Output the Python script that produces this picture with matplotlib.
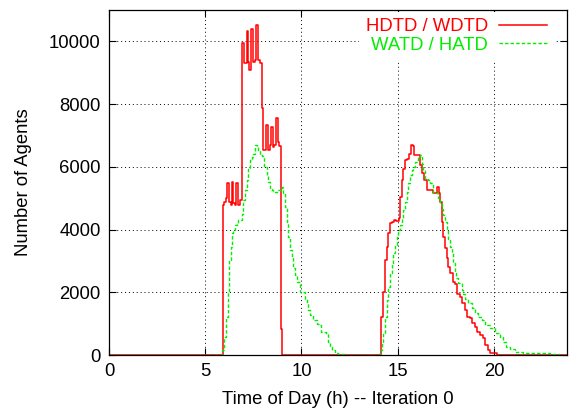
import matplotlib
matplotlib.use("Agg")
import matplotlib.pyplot as plt

plt.rcParams['font.family'] = ['Liberation Sans', 'DejaVu Sans']

# step data: time of day (h) where the count changes, and the new count
red_t = [0, 5.9, 6.0, 6.08, 6.15, 6.25, 6.32, 6.37, 6.46, 6.55, 6.6, 6.72, 6.8,
         6.89, 6.99, 7.15, 7.23, 7.29, 7.38, 7.5, 7.58, 7.64, 7.76, 7.84, 7.93,
         8.02, 8.14, 8.28, 8.36, 8.4, 8.5, 8.57, 8.68, 8.78, 8.85, 8.94, 9.0,
         14.13, 14.22, 14.32, 14.42, 14.51, 14.6, 14.7, 14.8, 14.93, 15.05,
         15.12, 15.2, 15.29, 15.38, 15.5, 15.6, 15.67, 15.77, 15.86, 15.99,
         16.16, 16.28, 16.38, 16.5, 16.64, 16.81, 17.02, 17.13, 17.22, 17.3,
         17.37, 17.45, 17.54, 17.63, 17.71, 17.89, 17.98, 18.06, 18.23, 18.32,
         18.49, 18.58, 18.75, 18.84, 19.0, 19.1, 19.27, 19.44, 19.53, 19.7,
         19.79, 20.14, 21.0, 23.8]
red_n = [0, 4780, 4880, 5000, 5470, 4880, 4780, 5500, 4850, 4780, 5470, 4780, 4940,
         9940, 9300, 10320, 9330, 9100, 10400, 9330, 9400, 10520, 9400, 9300, 7880,
         6530, 7320, 6530, 6690, 7270, 6640, 6690, 7550, 6800, 6650, 830, 0,
         1220, 2020, 3025, 3450, 3875, 4200, 4250, 4320, 4280, 4370,
         5040, 5570, 5940, 6210, 6250, 6420, 6690, 6650, 6370, 6380,
         6050, 5790, 5570, 5270, 5250, 5150, 5360, 5150, 4880, 4250,
         3770, 3400, 3080, 2810, 2600, 2330, 2250, 1960, 1860, 1650,
         1430, 1220, 1180, 1030, 900, 740, 640, 530, 320, 160,
         50, 10, 0, 0]

green_t = [0, 5.85, 5.99, 6.08, 6.16, 6.25, 6.32, 6.37, 6.46, 6.55, 6.63, 6.72, 6.8,
           6.89, 6.98, 7.06, 7.15, 7.24, 7.32, 7.41, 7.5, 7.58, 7.68, 7.76, 7.84,
           7.97, 8.05, 8.19, 8.28, 8.36, 8.45, 8.54, 8.8, 8.97, 9.05, 9.14, 9.23,
           9.31, 9.4, 9.49, 9.57, 9.66, 9.75, 9.92, 10.18, 10.27, 10.35, 10.44,
           10.6, 10.79, 10.95, 11.04, 11.3, 11.39, 11.48, 11.57, 11.74, 11.9,
           12.3, 12.5, 14.08, 14.17, 14.25, 14.34, 14.42, 14.51, 14.6, 14.68,
           14.77, 14.86, 14.94, 15.03, 15.12, 15.2, 15.29, 15.38, 15.46, 15.55,
           15.64, 15.72, 15.81, 15.9, 16.07, 16.16, 16.24, 16.33, 16.42, 16.6,
           16.68, 16.85, 17.1, 17.19, 17.28, 17.36, 17.45, 17.54, 17.62, 17.71,
           17.8, 17.88, 17.97, 18.05, 18.14, 18.32, 18.4, 18.49, 18.67, 18.84,
           19.01, 19.18, 19.36, 19.53, 19.79, 20.05, 20.31, 20.48, 20.65, 20.83,
           21.09, 21.5, 22.2, 22.9, 23.4, 23.8]
green_n = [0, 160, 580, 1220, 2020, 3025, 3450, 3880, 3980, 4140, 4180, 4300, 4320,
           4510, 4940, 5250, 5570, 5940, 6210, 6300, 6420, 6690, 6650, 6530, 6370,
           6360, 6000, 5730, 5520, 5300, 5250, 5200, 5250, 5360, 5150, 4720, 4250,
           3770, 3340, 3080, 2760, 2550, 2330, 2020, 1780, 1650, 1430, 1270,
           1110, 1000, 950, 740, 690, 420, 260, 160, 50, 30,
           10, 0, 160, 370, 690, 1220, 1750, 2180, 2600, 2920,
           3240, 3500, 3770, 3980, 4140, 4350, 4620, 4880, 5200, 5470,
           5730, 5890, 6000, 6160, 6320, 6370, 6100, 5890, 5620, 5570,
           5470, 5150, 4990, 4830, 4670, 4460, 4250, 3980, 3710, 3450,
           3240, 2920, 2600, 2450, 2280, 2070, 1950, 1800, 1650, 1490,
           1330, 1220, 1110, 960, 850, 690, 580, 420, 260, 180,
           100, 70, 50, 40, 0, 0]

x_ticks = [0, 5, 10, 15, 20]
y_ticks = [0, 2000, 4000, 6000, 8000, 10000]

fig = plt.figure(figsize=(5.69, 4.16), dpi=100)
ax = fig.add_axes([0.1916, 0.1466, 0.805, 0.8294])

ax.step(red_t, red_n, where='post', color='#ff0000', lw=1.1, label='HDTD / WDTD')
ax.step(green_t, green_n, where='post', color='#00ee00', lw=1.0,
        linestyle=(0, (2.5, 1.5)), label='WATD / HATD')

ax.set_xlim(0, 23.8)
ax.set_ylim(0, 11000)
ax.set_xticks(x_ticks)
ax.set_yticks(y_ticks)
ax.grid(True, color='black', linestyle=(0, (1, 3)), linewidth=0.7)
ax.tick_params(direction='in', top=True, right=True, length=5, width=0.8,
               labelsize=13.3, pad=6)
for s in ax.spines.values():
    s.set_linewidth(0.9)

ax.set_xlabel('Time of Day (h) -- Iteration 0', fontsize=13.3, labelpad=8)
ax.set_ylabel('Number of Agents', fontsize=13.3, labelpad=12)

leg = ax.legend(loc='upper right', frameon=True, markerfirst=False,
                labelcolor='linecolor', fontsize=13.3, handlelength=2.6,
                handletextpad=0.6, borderaxespad=0.1, labelspacing=0.08,
                borderpad=0.35, bbox_to_anchor=(0.975, 1.0))
leg.get_frame().set_edgecolor('none')
leg.get_frame().set_facecolor('white')
leg.get_frame().set_alpha(1)
for t in leg.get_texts():
    t.set_ha('right')

fig.savefig('out.png', dpi=100)
